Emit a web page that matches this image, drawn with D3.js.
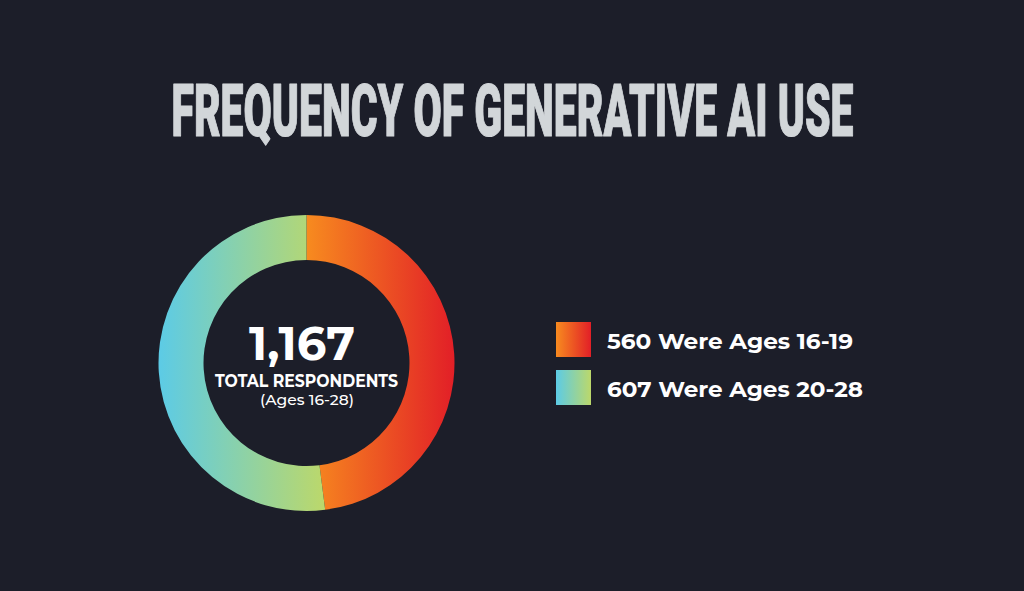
<!DOCTYPE html>
<html><head><meta charset="utf-8">
<script src="https://cdn.jsdelivr.net/npm/d3@7"></script>
<style>
html,body{margin:0;padding:0;background:#1c1e29;}
svg{display:block;}
</style></head>
<body>
<svg id="chart" width="1024" height="591"></svg>
<script>
const title = "FREQUENCY OF GENERATIVE AI USE";
const groups = ["Ages 16-19", "Ages 20-28"];
const counts = [560, 607];
const legendLabels = ["560 Were Ages 16-19", "607 Were Ages 20-28"];
const gradStart = ["#f78b1f", "#5ccbe6"];
const gradEnd = ["#e21f27", "#bcd86a"];
const totalLabel = "1,167";
const subLabel1 = "TOTAL RESPONDENTS";
const subLabel2 = "(Ages 16-28)";

const svg = d3.select("#chart");
svg.append("rect").attr("width",1024).attr("height",591).attr("fill","#1c1e29");
const defs = svg.append("defs");

// Title
svg.append("text")
  .attr("x",171.5).attr("y",135.5)
  .attr("textLength",682).attr("lengthAdjust","spacingAndGlyphs")
  .attr("font-family","Roboto, 'DejaVu Sans Condensed', sans-serif")
  .attr("font-weight",900).attr("font-size",72)
  .attr("fill","#d2d6d9").attr("stroke","#d2d6d9").attr("stroke-width",1.2)
  .attr("stroke-linejoin","round")
  .text(title);

const cx = 306.5, cy = 363, rOut = 148, rIn = 103;
const pie = d3.pie().sort(null).value(d=>d)(counts);
const arc = d3.arc().innerRadius(rIn).outerRadius(rOut);

pie.forEach((p,i)=>{
  const xs=[];
  for(let a=p.startAngle;a<=p.endAngle;a+=0.01){
    xs.push(Math.sin(a)*rOut, Math.sin(a)*rIn);
  }
  xs.push(Math.sin(p.endAngle)*rOut, Math.sin(p.endAngle)*rIn);
  const gr = defs.append("linearGradient").attr("id","ag"+i)
    .attr("gradientUnits","userSpaceOnUse")
    .attr("x1",d3.min(xs)).attr("x2",d3.max(xs)).attr("y1",0).attr("y2",0);
  gr.append("stop").attr("offset","0%").attr("stop-color",gradStart[i]);
  gr.append("stop").attr("offset","100%").attr("stop-color",gradEnd[i]);
});
svg.append("g").attr("transform",`translate(${cx},${cy})`)
  .selectAll("path").data(pie).join("path")
  .attr("d",arc).attr("fill",(d,i)=>`url(#ag${i})`);

const font = "Montserrat, Lato, 'Open Sans', sans-serif";
svg.append("text").attr("x",302).attr("y",360).attr("text-anchor","middle")
  .attr("font-family",font).attr("font-weight",700).attr("font-size",48)
  .attr("textLength",106).attr("lengthAdjust","spacingAndGlyphs")
  .attr("fill","#ffffff").text(totalLabel);
svg.append("text").attr("x",306.5).attr("y",387).attr("text-anchor","middle")
  .attr("font-family",font).attr("font-weight",700).attr("font-size",17.5)
  .attr("textLength",183).attr("lengthAdjust","spacingAndGlyphs")
  .attr("fill","#ffffff").text(subLabel1);
svg.append("text").attr("x",307).attr("y",405).attr("text-anchor","middle")
  .attr("font-family",font).attr("font-weight",500).attr("font-size",15.5)
  .attr("textLength",94).attr("lengthAdjust","spacingAndGlyphs")
  .attr("fill","#ffffff").text(subLabel2);

// Legend
const legY = d3.scaleBand().domain(groups).range([322,405]).paddingInner(13/48);
groups.forEach((gname,i)=>{
  const lg = defs.append("linearGradient").attr("id","lg"+i)
    .attr("x1","0%").attr("x2","100%").attr("y1","0%").attr("y2","0%");
  lg.append("stop").attr("offset","0%").attr("stop-color",gradStart[i]);
  lg.append("stop").attr("offset","100%").attr("stop-color",gradEnd[i]);
  const y = legY(gname);
  svg.append("rect").attr("x",556).attr("y",y).attr("width",legY.bandwidth()).attr("height",legY.bandwidth())
    .attr("fill",`url(#lg${i})`);
  svg.append("text").attr("x",607).attr("y",y+27)
    .attr("font-family",font).attr("font-weight",700).attr("font-size",22.5)
    .attr("textLength",i===0?246:256).attr("lengthAdjust","spacingAndGlyphs")
    .attr("fill","#ffffff").text(legendLabels[i]);
});
</script>
</body></html>
